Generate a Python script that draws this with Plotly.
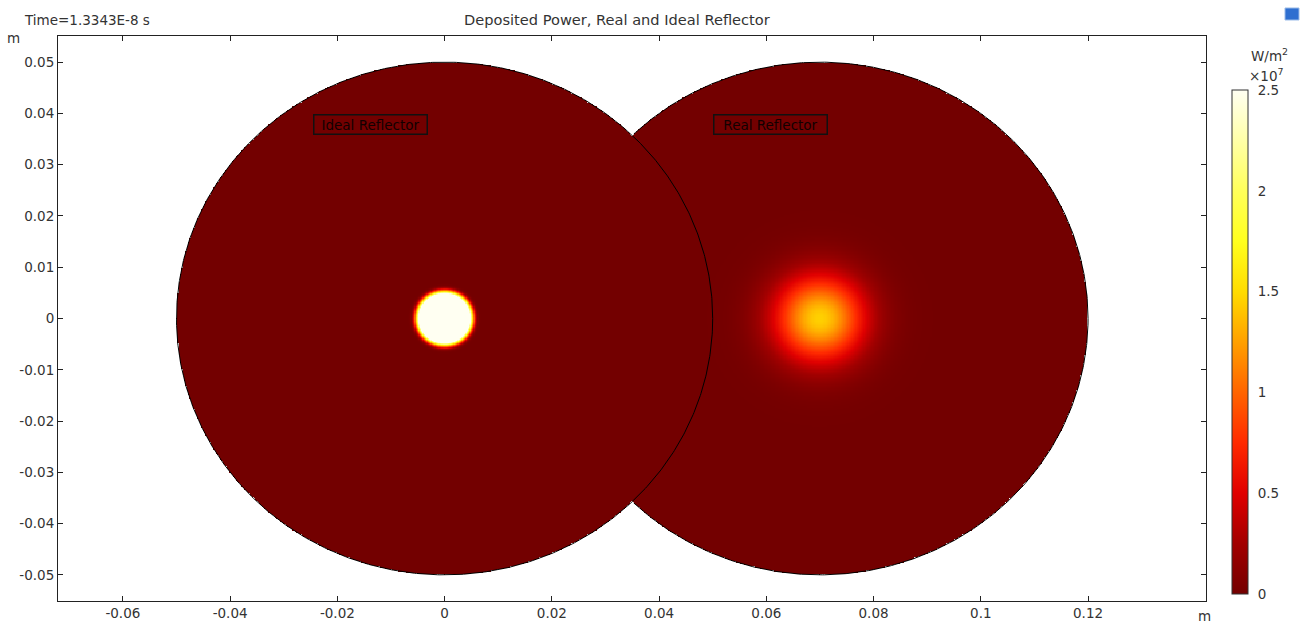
import numpy as np
import plotly.graph_objects as go

# ---- data ----
circle_names = ["Ideal Reflector", "Real Reflector"]
circle_cx = [0.0, 0.07]          # m
circle_cy = [0.0, 0.0]           # m
circle_r = [0.05, 0.05]          # m

# deposited power spots (units of 1e7 W/m^2)
spot_cx = [0.0, 0.0700]
spot_cy = [0.0, 0.0]
spot_peak = [4.0, 1.45]
spot_width = [0.0053, 0.0059]
spot_order = [8, 2]              # super-gaussian exponent

label_x = [-0.0138, 0.0607]
label_y = [0.0378, 0.0378]

x_tick_vals = [-0.06, -0.04, -0.02, 0, 0.02, 0.04, 0.06, 0.08, 0.1, 0.12]
x_tick_text = ["-0.06", "-0.04", "-0.02", "0", "0.02", "0.04", "0.06", "0.08", "0.1", "0.12"]
y_tick_vals = [0.05, 0.04, 0.03, 0.02, 0.01, 0, -0.01, -0.02, -0.03, -0.04, -0.05]
y_tick_text = ["0.05", "0.04", "0.03", "0.02", "0.01", "0", "-0.01", "-0.02", "-0.03", "-0.04", "-0.05"]
cb_tick_vals = [0, 0.5, 1, 1.5, 2, 2.5]
cb_tick_text = ["0", "0.5", "1", "1.5", "2", "2.5"]

colorscale = [
    [0.0, "#730000"], [0.1, "#a20000"], [0.2, "#e00000"], [0.3, "#ff2a00"],
    [0.4, "#ff6400"], [0.5, "#ffa000"], [0.6, "#ffdc00"], [0.7, "#ffff1e"],
    [0.8, "#ffff5a"], [0.9, "#ffffa8"], [1.0, "#fffff2"],
]

# ---- field on a grid ----
step = 0.00025
gx = np.arange(-0.0505, 0.1205 + step / 2, step)
gy = np.arange(-0.0505, 0.0505 + step / 2, step)
X, Y = np.meshgrid(gx, gy)
Z = np.zeros_like(X)
for cx, cy, pk, w, n in zip(spot_cx, spot_cy, spot_peak, spot_width, spot_order):
    r = np.hypot(X - cx, Y - cy)
    if n == 2:
        Z += pk * np.exp(-(r ** 2) / (2 * w ** 2))
    else:
        Z += pk * np.exp(-((r / w) ** n))
inside = np.zeros_like(X, dtype=bool)
for cx, cy, rr in zip(circle_cx, circle_cy, circle_r):
    inside |= np.hypot(X - cx, Y - cy) <= rr
Z = np.where(inside, np.round(np.minimum(Z, 2.5), 3), np.nan)

tick_font = dict(family="DejaVu Sans", size=13.5, color="#333")

fig = go.Figure()
fig.add_trace(go.Heatmap(
    x=np.round(gx, 6), y=np.round(gy, 6), z=Z,
    zmin=0, zmax=2.5, colorscale=colorscale, hoverinfo="skip",
    colorbar=dict(
        x=(1231.7 - 58) / 1148, xanchor="left", xpad=0,
        y=(600.7 - 342) / 564.7, yanchor="middle", ypad=0,
        len=504, lenmode="pixels", thickness=16,
        outlinewidth=1, outlinecolor="#333",
        tickvals=cb_tick_vals, ticktext=cb_tick_text,
        ticks="outside", ticklen=7, tickcolor="rgba(0,0,0,0)",
        tickfont=tick_font,
    ),
))

# circle outlines: left one fully, right one only where not covered by the left
theta = np.linspace(0, 2 * np.pi, 721)
lx = circle_cx[0] + circle_r[0] * np.cos(theta)
ly = circle_cy[0] + circle_r[0] * np.sin(theta)
fig.add_trace(go.Scatter(x=lx, y=ly, mode="lines", line=dict(color="black", width=1),
                         hoverinfo="skip", showlegend=False))
rx = circle_cx[1] + circle_r[1] * np.cos(theta)
ry = circle_cy[1] + circle_r[1] * np.sin(theta)
outside_left = np.hypot(rx - circle_cx[0], ry - circle_cy[0]) >= circle_r[0] - 1e-9
rx = np.where(outside_left, rx, np.nan)
ry = np.where(outside_left, ry, np.nan)
fig.add_trace(go.Scatter(x=rx, y=ry, mode="lines", line=dict(color="black", width=1),
                         hoverinfo="skip", showlegend=False, connectgaps=False))

annotations = []
for name, x, y in zip(circle_names, label_x, label_y):
    annotations.append(dict(x=x, y=y, xref="x", yref="y", text=name, showarrow=False,
                            font=dict(family="DejaVu Sans", size=13.5, color="#120000"),
                            bordercolor="#111", borderwidth=1.5, borderpad=1,
                            width=110, height=16))

def px(p):
    return (p - 58) / 1148

def py(p):
    return (600.7 - p) / 564.7

annotations += [
    dict(x=px(617), y=py(20), xref="paper", yref="paper", text="Deposited Power, Real and Ideal Reflector",
         showarrow=False, font=dict(family="DejaVu Sans", size=14.6, color="#333"),
         xanchor="center", yanchor="middle"),
    dict(x=px(22), y=py(20), xref="paper", yref="paper", text="Time=1.3343E-8 s",
         showarrow=False, font=tick_font, xanchor="left", yanchor="middle"),
    dict(x=px(13), y=py(38), xref="paper", yref="paper", text="m",
         showarrow=False, font=tick_font, xanchor="center", yanchor="middle"),
    dict(x=px(1204), y=py(616), xref="paper", yref="paper", text="m",
         showarrow=False, font=tick_font, xanchor="center", yanchor="middle"),
    dict(x=px(1249), y=py(55), xref="paper", yref="paper", text="W/m<sup>2</sup>",
         showarrow=False, font=tick_font, xanchor="left", yanchor="middle"),
    dict(x=px(1247), y=py(75), xref="paper", yref="paper", text="×10<sup>7</sup>",
         showarrow=False, font=tick_font, xanchor="left", yanchor="middle"),
]

axis_common = dict(showline=True, linecolor="#222", linewidth=1, mirror="ticks",
                   ticks="inside", ticklen=5, tickcolor="#222", showgrid=False,
                   zeroline=False, tickfont=tick_font, automargin=False)

fig.update_layout(
    width=1304, height=623,
    margin=dict(l=58, r=98, t=36, b=22.3, autoexpand=False),
    paper_bgcolor="white", plot_bgcolor="white",
    xaxis=dict(range=[-0.0721, 0.142], tickvals=x_tick_vals, ticktext=x_tick_text, **axis_common),
    yaxis=dict(range=[-0.0551, 0.0551], tickvals=y_tick_vals, ticktext=y_tick_text, **axis_common),
    annotations=annotations,
    shapes=[dict(type="rect", xref="paper", yref="paper",
                 x0=px(1285), x1=px(1299), y0=py(20), y1=py(8),
                 fillcolor="#2f6fd0", line=dict(color="#9bbbe8", width=1))],
    showlegend=False,
)

fig.write_html("out.html")
